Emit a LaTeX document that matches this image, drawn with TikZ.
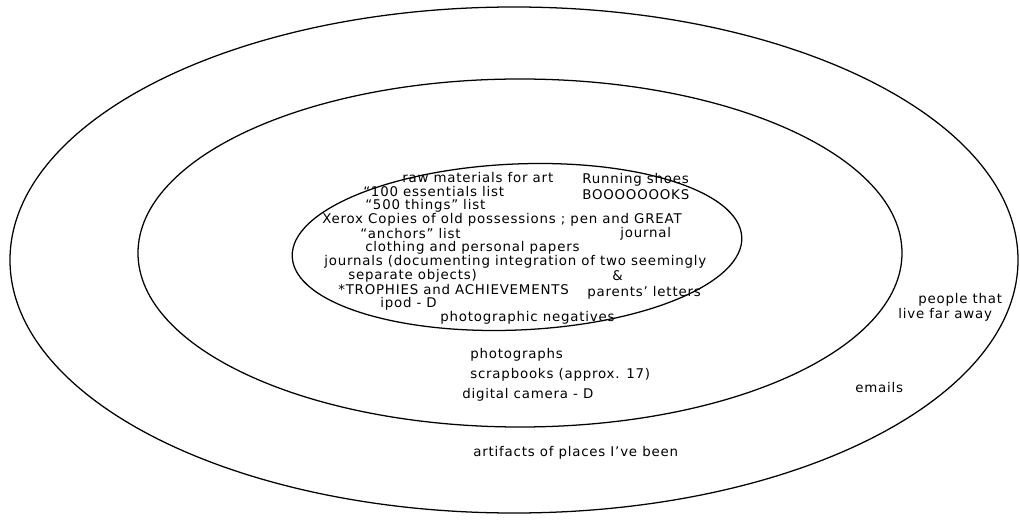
\documentclass[tikz,border=0pt]{standalone}
\usepackage{fontspec}
\setmainfont{DejaVu Sans}[LetterSpace=6]
\usetikzlibrary{positioning}

\begin{document}
\begin{tikzpicture}[x=0.025cm,y=-0.025cm,
  ring/.style={draw,line width=0.9pt},
  item/.style={anchor=west,inner sep=0pt,font=\fontsize{9.5}{11}\selectfont}
]
  \useasboundingbox (0,0) rectangle (1020,524);
  % three rings
  \draw[ring] (514,260) ellipse [x radius=504, y radius=253];
  \draw[ring] (520,253) ellipse [x radius=382, y radius=174];
  \draw[ring,rotate around={2.5:(517,247)}] (517,247) ellipse [x radius=225, y radius=83];
  % inner ring
  \node[item] (art) at (402,178) {raw materials for art};
  \node[item] (shoes) at (582,180) {Running shoes};
  \node[item] (books) at (582,195) {BOOOOOOOKS};
  \node[item] (ess) at (363,192) {``100 essentials list};
  \node[item] (things) at (365,206) {``500 things'' list};
  \node[item] (xerox) at (322,220) {Xerox Copies of old possessions ; pen and GREAT};
  \node[item] (journal) at (620,234) {journal};
  \node[item] (anchors) at (360,234) {``anchors'' list};
  \node[item] (clothing) at (365,248) {clothing and personal papers};
  \node[item] (journals) at (324,262) {journals (documenting integration of two seemingly};
  \node[item] (separate) at (348,276) {separate objects)};
  \node[item] (amp) at (612,276) {\&};
  \node[item] (trophies) at (338,290) {*TROPHIES and ACHIEVEMENTS};
  \node[item] (letters) at (587,293) {parents' letters};
  \node[item] (ipod) at (380,304) {ipod - D};
  \node[item] (negatives) at (440,318) {photographic negatives};
  % middle ring
  \node[item] (photos) at (470,355) {photographs};
  \node[item] (scrap) at (470,375) {scrapbooks (approx. 17)};
  \node[item] (camera) at (462,395) {digital camera - D};
  \node[item] (emails) at (855,388) {emails};
  \node[item] (people) at (918,300) {people that};
  \node[item] (faraway) at (898,315) {live far away};
  % outer ring
  \node[item] (places) at (473,453) {artifacts of places I've been};
\end{tikzpicture}
\end{document}
